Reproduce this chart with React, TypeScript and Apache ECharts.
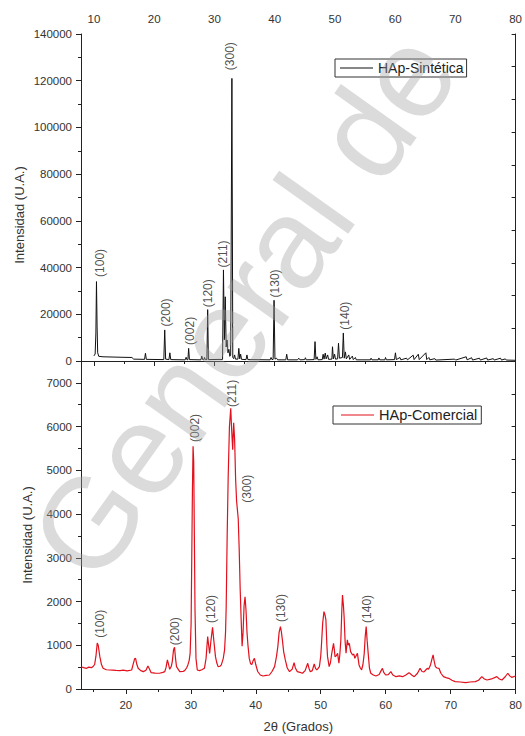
import React, { useEffect, useRef } from "react";
import * as echarts from "echarts";

// Top panel: HAp-Sintética (2θ, intensity)
const topData: [number, number][] = [
  [10.0, 2200], [10.2, 3000], [10.32, 12000], [10.42, 34000], [10.52, 15000], [10.62, 3500],
  [10.8, 2000], [11.5, 1800], [13.0, 1700], [14.5, 1600], [16.3, 1500], [16.6, 800],
  [18.4, 700], [18.55, 3300], [18.7, 700], [21.6, 600], [21.75, 13300], [21.9, 800],
  [22.45, 600], [22.6, 3500], [22.75, 600], [25.15, 500], [25.3, 1600], [25.45, 500],
  [25.6, 600], [25.72, 5400], [25.85, 600], [27.75, 500], [27.9, 2100], [28.05, 600],
  [28.25, 500], [28.35, 1500], [28.5, 600], [28.75, 600], [28.88, 22000], [29.0, 600],
  [31.35, 700], [31.5, 39000], [31.65, 9000], [31.8, 27500], [31.95, 6000], [32.1, 9000],
  [32.25, 3500], [32.4, 5000], [32.55, 2000], [32.7, 2500], [32.9, 121000], [33.05, 1500],
  [33.2, 1000], [33.35, 2600], [33.5, 800], [33.9, 800], [34.05, 5400], [34.2, 900],
  [34.35, 2900], [34.5, 700], [35.25, 600], [35.4, 2600], [35.55, 600], [39.25, 500],
  [39.4, 1500], [39.55, 600], [39.75, 700], [39.9, 26000], [40.05, 800], [40.3, 1200],
  [40.5, 500], [41.85, 500], [42.0, 2900], [42.15, 500], [43.8, 500], [44.0, 1200],
  [44.2, 500], [45.0, 600], [45.1, 1400], [45.25, 500], [46.55, 600], [46.7, 8300],
  [46.85, 700], [47.05, 1800], [47.2, 500], [47.9, 600], [48.05, 2900], [48.2, 800],
  [48.4, 3400], [48.55, 900], [48.8, 2600], [48.95, 700], [49.5, 800], [49.6, 6100],
  [49.75, 900], [49.95, 2900], [50.1, 800], [50.45, 900], [50.6, 7600], [50.75, 1200],
  [51.25, 1500], [51.4, 12000], [51.55, 1200], [51.75, 3900], [51.9, 900], [52.3, 2600],
  [52.45, 700], [52.9, 2100], [53.05, 600], [53.4, 1500], [53.55, 500], [55.9, 500],
  [56.0, 1200], [56.15, 500], [57.2, 500], [57.3, 1300], [57.45, 500], [58.3, 500],
  [58.4, 1500], [58.55, 500], [59.9, 600], [60.05, 3500], [60.2, 600], [60.8, 1500],
  [60.95, 500], [61.9, 1200], [62.05, 500], [63.0, 2500], [63.15, 600], [63.85, 2900],
  [64.0, 600], [65.1, 3500], [65.25, 600], [65.6, 1500], [65.75, 500], [66.6, 1000],
  [66.75, 400], [69.9, 800], [70.05, 400], [71.8, 1800], [71.95, 500], [72.7, 1400],
  [72.85, 400], [74.0, 1200], [74.15, 400], [75.2, 1300], [75.35, 400], [76.3, 1000],
  [76.45, 400], [77.5, 1200], [77.65, 400], [78.3, 900], [78.45, 400], [80, 300],
];

// Bottom panel: HAp-Comercial
const bottomData: [number, number][] = [
  [13.1, 510], [13.5, 490], [13.96, 473], [14.3, 500], [14.7, 488], [15.0, 520], [15.2, 560],
  [15.4, 750], [15.6, 1050], [15.75, 1000], [16.0, 740], [16.25, 560], [16.5, 473], [17.0, 440],
  [17.5, 435], [18.0, 430], [18.5, 425], [19.1, 420], [19.6, 430], [20.2, 415], [20.9, 435],
  [21.1, 550], [21.35, 690], [21.5, 700], [21.7, 560], [21.9, 473], [22.3, 420], [22.7, 397],
  [23.1, 430], [23.4, 527], [23.6, 470], [23.9, 374], [24.5, 365], [25.2, 360], [25.7, 380],
  [26.0, 397], [26.2, 500], [26.4, 664], [26.55, 580], [26.75, 450], [27.0, 520], [27.15, 626],
  [27.35, 900], [27.5, 954], [27.65, 700], [27.8, 511], [28.3, 397], [28.8, 400], [29.05, 420],
  [29.35, 480], [29.55, 550], [29.75, 650], [29.9, 816], [30.05, 1500], [30.15, 3000],
  [30.25, 4500], [30.35, 5550], [30.45, 5200], [30.55, 3500], [30.65, 1800], [30.8, 700],
  [31.0, 435], [31.35, 420], [31.7, 440], [32.1, 473], [32.35, 700], [32.6, 1198], [32.75, 1000],
  [32.9, 816], [33.1, 1100], [33.35, 1411], [33.55, 1100], [33.8, 740], [34.0, 600], [34.2, 511],
  [34.5, 520], [34.7, 550], [35.0, 700], [35.2, 893], [35.35, 1300], [35.45, 1885], [35.6, 3500],
  [35.75, 4800], [35.95, 6000], [36.15, 6420], [36.3, 5900], [36.45, 5470], [36.6, 6090],
  [36.75, 5700], [36.9, 4800], [37.05, 4300], [37.2, 4060], [37.3, 3900], [37.45, 3200],
  [37.6, 2300], [37.75, 1600], [37.9, 980], [38.05, 1300], [38.2, 1900], [38.35, 2110],
  [38.5, 1800], [38.65, 1300], [38.8, 1000], [39.0, 700], [39.2, 580], [39.4, 560], [39.6, 650],
  [39.8, 700], [40.0, 560], [40.3, 400], [40.7, 320], [41.1, 298], [41.6, 310], [42.1, 320],
  [42.5, 400], [42.9, 511], [43.2, 750], [43.4, 969], [43.6, 1300], [43.8, 1427], [43.95, 1300],
  [44.1, 1122], [44.3, 850], [44.55, 664], [44.85, 480], [45.2, 397], [45.6, 450], [45.9, 603],
  [46.1, 480], [46.4, 397], [46.8, 380], [47.2, 360], [47.6, 420], [48.0, 588], [48.2, 470],
  [48.4, 395], [48.7, 420], [49.0, 572], [49.2, 470], [49.4, 435], [49.6, 470], [49.8, 511],
  [50.0, 750], [50.1, 969], [50.3, 1500], [50.5, 1770], [50.65, 1700], [50.8, 1580], [50.95, 1000],
  [51.05, 740], [51.3, 511], [51.5, 600], [51.7, 816], [51.97, 1045], [52.1, 900], [52.2, 740],
  [52.4, 760], [52.6, 816], [52.8, 588], [52.95, 800], [53.1, 1122], [53.25, 1800], [53.35, 2150],
  [53.5, 1900], [53.6, 1656], [53.75, 1100], [53.9, 816], [54.1, 1122], [54.25, 1000], [54.4, 1045],
  [54.6, 855], [54.9, 778], [55.1, 800], [55.25, 702], [55.45, 760], [55.65, 816], [55.9, 550],
  [56.1, 480], [56.3, 435], [56.5, 560], [56.7, 816], [56.85, 1200], [57.0, 1427], [57.15, 1100],
  [57.35, 740], [57.5, 480], [57.7, 360], [58.1, 320], [58.5, 298], [59.0, 330], [59.3, 420],
  [59.5, 473], [59.7, 380], [60.0, 320], [60.4, 330], [60.8, 397], [61.1, 320], [61.6, 282],
  [62.1, 300], [62.6, 282], [63.1, 320], [63.6, 374], [64.0, 320], [64.4, 282], [64.9, 360],
  [65.3, 473], [65.6, 400], [65.9, 390], [66.2, 440], [66.4, 473], [66.6, 450], [66.9, 550],
  [67.15, 700], [67.3, 778], [67.45, 650], [67.65, 511], [67.9, 480], [68.2, 473], [68.5, 360],
  [68.9, 282], [69.3, 260], [69.7, 244], [70.2, 200], [70.7, 168], [71.5, 160], [72.3, 145],
  [73.0, 160], [73.8, 168], [74.3, 200], [74.8, 282], [75.2, 230], [75.6, 206], [76.3, 230],
  [77.1, 282], [77.5, 230], [77.9, 206], [78.4, 280], [78.8, 360], [79.1, 300], [79.4, 267],
  [80.0, 298],
];

// Miller index annotations (label, 2θ, intensity at label base)
const topLabels: [string, number, number][] = [
  ["(100)", 11.0, 36000], ["(200)", 21.9, 14800], ["(002)", 25.9, 6900], ["(120)", 28.9, 23000],
  ["(211)", 31.5, 40000], ["(300)", 32.6, 124500], ["(130)", 40.1, 27200], ["(140)", 51.7, 13400],
];
const bottomLabels: [string, number, number][] = [
  ["(100)", 16.0, 1170], ["(200)", 27.5, 1000], ["(002)", 30.6, 5650], ["(120)", 33.05, 1510],
  ["(211)", 36.3, 6450], ["(300)", 38.6, 4260], ["(130)", 43.9, 1530], ["(140)", 57.1, 1510],
];

const topTickLabels = [10, 20, 30, 40, 50, 60, 70, 80];
const topMinorTicks = [15, 25, 35, 45, 55, 65, 75];
const bottomTickLabels = [20, 30, 40, 50, 60, 70, 80];
const bottomMinorTicks = [15, 25, 35, 45, 55, 65, 75];

const TOP_MIN = 7.85;
const BOTTOM_MIN = 13.1;
const FONT = "Liberation Sans, Arial, sans-serif";

export default function App() {
  const ref = useRef<HTMLDivElement>(null);
  useEffect(() => {
    document.body.style.margin = "0";
    if (!ref.current) return;
    const chart = echarts.init(ref.current, undefined, { renderer: "svg" });
    const axisLine = { show: true, lineStyle: { color: "#222", width: 1 } };
    const labelStyle = {
      color: "#333", fontSize: 11.5, fontFamily: FONT,
      formatter: (v: number) => String(v),
    };
    const labelSeries = (items: [string, number, number][], xi: number, yi: number) => ({
      type: "scatter",
      xAxisIndex: xi,
      yAxisIndex: yi,
      symbolSize: 1,
      silent: true,
      itemStyle: { color: "rgba(0,0,0,0)" },
      data: items.map(([n, x, y]) => ({ name: n, value: [x, y] })),
      label: {
        show: true,
        formatter: "{b}",
        position: "inside",
        rotate: 90,
        align: "left",
        verticalAlign: "middle",
        color: "#222",
        fontSize: 12,
        fontFamily: FONT,
      },
      z: 5,
    });
    const option: any = {
      animation: false,
      backgroundColor: "#fff",
      grid: [
        { left: 81, right: 8, top: 34, height: 327 },
        { left: 81, right: 8, top: 361, height: 328 },
      ],
      xAxis: [
        {
          gridIndex: 0, type: "value", position: "top", min: TOP_MIN, max: 80,
          axisLine, splitLine: { show: false },
          axisTick: { show: true, inside: true, length: 5, customValues: topTickLabels, lineStyle: { color: "#222" } },
          axisLabel: { ...labelStyle, margin: 9, customValues: topTickLabels },
        },
        {
          gridIndex: 0, type: "value", position: "top", min: TOP_MIN, max: 80,
          axisLine: { show: false }, splitLine: { show: false },
          axisTick: { show: true, inside: true, length: 3, customValues: topMinorTicks, lineStyle: { color: "#222" } },
          axisLabel: { show: false },
        },
        {
          gridIndex: 1, type: "value", position: "bottom", min: BOTTOM_MIN, max: 80,
          axisLine, splitLine: { show: false },
          axisTick: { show: true, inside: false, length: 5, customValues: bottomTickLabels, lineStyle: { color: "#222" } },
          axisLabel: { ...labelStyle, margin: 10, customValues: bottomTickLabels },
          name: "2θ (Grados)", nameLocation: "middle", nameGap: 31,
          nameTextStyle: { color: "#333", fontSize: 13, fontFamily: FONT },
        },
        {
          gridIndex: 1, type: "value", position: "bottom", min: BOTTOM_MIN, max: 80,
          axisLine: { show: false }, splitLine: { show: false },
          axisTick: { show: true, inside: false, length: 3, customValues: bottomMinorTicks, lineStyle: { color: "#222" } },
          axisLabel: { show: false },
        },
        {
          gridIndex: 1, type: "value", position: "top", min: TOP_MIN, max: 80,
          axisLine, splitLine: { show: false },
          axisTick: { show: true, inside: true, length: 5, customValues: topTickLabels, lineStyle: { color: "#222" } },
          axisLabel: { show: false },
        },
        {
          gridIndex: 1, type: "value", position: "top", min: TOP_MIN, max: 80,
          axisLine: { show: false }, splitLine: { show: false },
          axisTick: { show: true, inside: true, length: 3, customValues: topMinorTicks, lineStyle: { color: "#222" } },
          axisLabel: { show: false },
        },
      ],
      yAxis: [
        {
          gridIndex: 0, type: "value", position: "left", min: 0, max: 140000, interval: 20000,
          axisLine, splitLine: { show: false },
          axisTick: { show: true, inside: false, length: 5, lineStyle: { color: "#222" } },
          minorTick: { show: true, splitNumber: 2, length: 3, lineStyle: { color: "#222" } },
          axisLabel: { ...labelStyle, margin: 9 },
        },
        {
          gridIndex: 0, type: "value", position: "right", min: 0, max: 10, interval: 1,
          axisLine, splitLine: { show: false },
          axisTick: { show: true, inside: true, length: 4, lineStyle: { color: "#222" } },
          axisLabel: { show: false },
        },
        {
          gridIndex: 1, type: "value", position: "left", min: 0, max: 7500, interval: 1000,
          axisLine, splitLine: { show: false },
          axisTick: { show: true, inside: false, length: 5, lineStyle: { color: "#222" } },
          minorTick: { show: true, splitNumber: 2, length: 3, lineStyle: { color: "#222" } },
          axisLabel: { ...labelStyle, margin: 9, showMaxLabel: false },
        },
        {
          gridIndex: 1, type: "value", position: "right", min: 0, max: 10, interval: 1,
          axisLine, splitLine: { show: false },
          axisTick: { show: true, inside: true, length: 4, lineStyle: { color: "#222" } },
          axisLabel: { show: false },
        },
      ],
      legend: [
        {
          data: [{ name: "HAp-Sintética", icon: "rect" }], left: 335, top: 59, orient: "horizontal",
          itemWidth: 33, itemHeight: 1, itemGap: 4,
          borderColor: "#333", borderWidth: 1, borderRadius: 0, padding: [1, 3, 1, 5],
          textStyle: { color: "#222", fontSize: 14, fontFamily: FONT, lineHeight: 16 },
        },
        {
          data: [{ name: "HAp-Comercial", icon: "rect" }], left: 333, top: 406, orient: "horizontal",
          itemWidth: 33, itemHeight: 1, itemGap: 5,
          borderColor: "#333", borderWidth: 1, borderRadius: 0, padding: [1, 4, 1, 8],
          textStyle: { color: "#222", fontSize: 14.5, fontFamily: FONT, lineHeight: 16 },
        },
      ],
      series: [
        {
          name: "HAp-Sintética", type: "line", xAxisIndex: 0, yAxisIndex: 0,
          data: topData, showSymbol: false, symbol: "none", silent: true,
          lineStyle: { color: "#111", width: 1 }, itemStyle: { color: "#111" },
        },
        {
          name: "HAp-Comercial", type: "line", xAxisIndex: 2, yAxisIndex: 2,
          data: bottomData, showSymbol: false, symbol: "none", silent: true,
          lineStyle: { color: "#e2101c", width: 1.2 }, itemStyle: { color: "#e2101c" },
        },
        labelSeries(topLabels, 0, 0),
        labelSeries(bottomLabels, 2, 2),
      ],
      graphic: [
        {
          type: "text", x: 19, y: 215, rotation: Math.PI / 2, silent: true,
          style: { text: "Intensidad (U.A.)", fill: "#333", font: `13px ${FONT}`, textAlign: "center", textVerticalAlign: "middle" },
        },
        {
          type: "text", x: 27, y: 535, rotation: Math.PI / 2, silent: true,
          style: { text: "Intensidad (U.A.)", fill: "#333", font: `13px ${FONT}`, textAlign: "center", textVerticalAlign: "middle" },
        },
        {
          type: "text", x: 112, y: 600, rotation: 0.953, silent: true, z: 100,
          style: { text: "General de", fill: "rgba(160,160,160,0.38)", font: `128px ${FONT}`, textAlign: "left", textVerticalAlign: "bottom" },
        },
      ],
    };
    chart.setOption(option);
    return () => chart.dispose();
  }, []);
  return <div ref={ref} style={{ width: 525, height: 736 }} />;
}
